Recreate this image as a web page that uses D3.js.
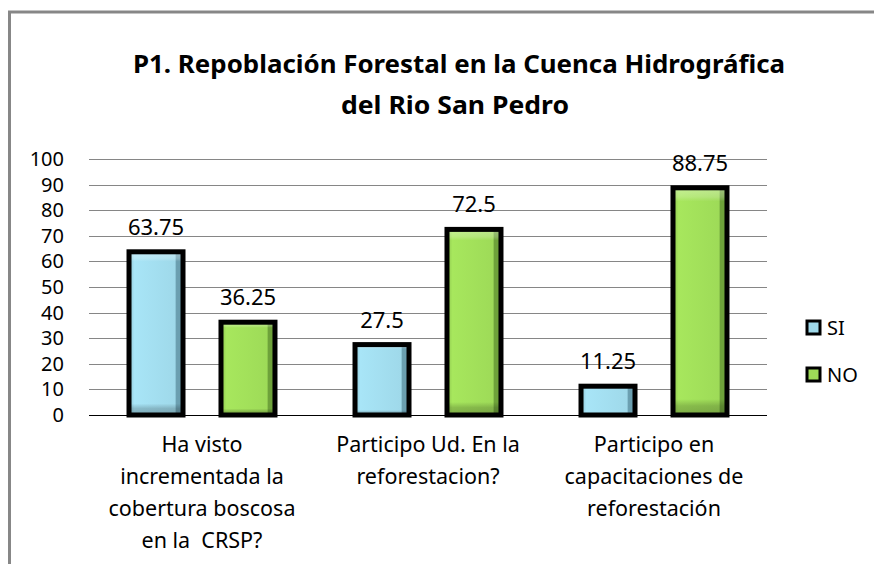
<!DOCTYPE html>
<html>
<head>
<meta charset="utf-8">
<script src="https://cdn.jsdelivr.net/npm/d3@7"></script>
<style>
  body { margin: 0; background: #fff; }
  text { font-family: "Noto Sans", "Open Sans", sans-serif; fill: #000; }
</style>
</head>
<body>
<div id="chart"></div>
<script>
// Datos
var categorias = [
  ["Ha visto", "incrementada la", "cobertura boscosa", "en la  CRSP?"],
  ["Participo Ud. En la", "reforestacion?"],
  ["Participo en", "capacitaciones de", "reforestación"]
];
var series = ["SI", "NO"];
var valoresSI = [63.75, 27.5, 11.25];
var valoresNO = [36.25, 72.5, 88.75];
var ticksY = [0, 10, 20, 30, 40, 50, 60, 70, 80, 90, 100];
var titulo = ["P1. Repoblación Forestal en la Cuenca Hidrográfica", "del Rio San Pedro"];

// Tamanho do svg
var w = 874, h = 564;
var margin = {top: 159, right: 107, bottom: 149, left: 89};
var width = w - margin.left - margin.right;
var height = h - margin.top - margin.bottom;

var colores = {SI: "#9fd9ea", NO: "#9edb58"};
var bordes = {SI: "#6b9fb0", NO: "#6ea23a"};

var svg = d3.select("#chart").append("svg")
  .attr("width", w).attr("height", h);

// Gradientes (efeito bisel)
var defs = svg.append("defs");
series.forEach(function(s) {
  var gh = defs.append("linearGradient").attr("id", "gh" + s)
    .attr("x1", 0).attr("x2", 1).attr("y1", 0).attr("y2", 0);
  gh.append("stop").attr("offset", 0).attr("stop-color", d3.color(colores[s]).darker(0.3));
  gh.append("stop").attr("offset", 0.1).attr("stop-color", d3.color(colores[s]).brighter(0.15));
  gh.append("stop").attr("offset", 0.85).attr("stop-color", colores[s]);
  gh.append("stop").attr("offset", 0.88).attr("stop-color", bordes[s]);
  gh.append("stop").attr("offset", 1).attr("stop-color", bordes[s]);
});
var gv = defs.append("linearGradient").attr("id", "gv")
  .attr("x1", 0).attr("x2", 0).attr("y1", 0).attr("y2", 1);
gv.append("stop").attr("offset", 0).attr("stop-color", "#fff").attr("stop-opacity", 0.35);
gv.append("stop").attr("offset", 0.04).attr("stop-color", "#fff").attr("stop-opacity", 0.2);
gv.append("stop").attr("offset", 0.06).attr("stop-color", "#fff").attr("stop-opacity", 0);
gv.append("stop").attr("offset", 0.93).attr("stop-color", "#000").attr("stop-opacity", 0);
gv.append("stop").attr("offset", 0.96).attr("stop-color", "#000").attr("stop-opacity", 0.18);
gv.append("stop").attr("offset", 1).attr("stop-color", "#000").attr("stop-opacity", 0.25);

// Moldura
svg.append("path")
  .attr("d", "M9.5," + h + " V12 H" + w)
  .attr("fill", "none").attr("stroke", "#878787").attr("stroke-width", 3);

// Titulo
svg.append("text")
  .attr("x", 459).attr("y", 73)
  .attr("text-anchor", "middle")
  .attr("font-size", "25px").attr("font-weight", "bold")
  .attr("textLength", 652).attr("lengthAdjust", "spacingAndGlyphs")
  .text(titulo[0]);
svg.append("text")
  .attr("x", 455).attr("y", 114)
  .attr("text-anchor", "middle")
  .attr("font-size", "25px").attr("font-weight", "bold")
  .attr("textLength", 228).attr("lengthAdjust", "spacingAndGlyphs")
  .text(titulo[1]);

var g = svg.append("g")
  .attr("transform", "translate(" + margin.left + "," + margin.top + ")");

// Escalas
var idx = d3.range(categorias.length);
var x0 = d3.scaleBand().domain(idx).range([0, width]);
var x1 = d3.scaleBand().domain(series).range([0, x0.bandwidth()])
  .paddingInner(0.413).paddingOuter(0.435);
var y = d3.scaleLinear().domain([0, 100]).range([height, 0]);

// Grade
g.append("g").selectAll("line")
  .data(ticksY.slice(1)).enter().append("line")
  .attr("x1", 0).attr("x2", width)
  .attr("y1", function(d) { return Math.round(y(d)) + 0.5; })
  .attr("y2", function(d) { return Math.round(y(d)) + 0.5; })
  .attr("stroke", "#868686").attr("stroke-width", 1);

// Eixo y
var yAxis = d3.axisLeft(y).tickValues(ticksY).tickSize(0).tickPadding(25);
var ya = g.append("g").call(yAxis);
ya.select(".domain").remove();
ya.selectAll("text").attr("font-size", "20px")
  .attr("font-family", "'Noto Sans', sans-serif").attr("fill", "#000");

// Dados
var dados = [];
idx.forEach(function(i) {
  dados.push({cat: i, serie: "SI", valor: valoresSI[i]});
  dados.push({cat: i, serie: "NO", valor: valoresNO[i]});
});

var barras = g.append("g").selectAll("g")
  .data(dados).enter().append("g")
  .attr("transform", function(d) { return "translate(" + (x0(d.cat) + x1(d.serie)) + ",0)"; });

barras.append("rect")
  .attr("x", 0).attr("width", x1.bandwidth())
  .attr("y", function(d) { return y(d.valor); })
  .attr("height", function(d) { return height - y(d.valor); })
  .attr("fill", function(d) { return "url(#gh" + d.serie + ")"; });
barras.append("rect")
  .attr("x", 0).attr("width", x1.bandwidth())
  .attr("y", function(d) { return y(d.valor); })
  .attr("height", function(d) { return height - y(d.valor); })
  .attr("fill", "url(#gv)")
  .attr("stroke", "#000").attr("stroke-width", 5);

barras.append("text")
  .attr("x", x1.bandwidth() / 2)
  .attr("y", function(d) { return y(d.valor) - 17; })
  .attr("text-anchor", "middle")
  .attr("font-size", "22px")
  .text(function(d) { return d.valor; });

// Eixo x
g.append("line")
  .attr("x1", 0).attr("x2", width)
  .attr("y1", height + 0.5).attr("y2", height + 0.5)
  .attr("stroke", "#000").attr("stroke-width", 1);

var xa = g.append("g").selectAll("text")
  .data(idx).enter().append("text")
  .attr("x", function(d) { return x0(d) + x0.bandwidth() / 2; })
  .attr("y", height + 37)
  .attr("text-anchor", "middle")
  .attr("font-size", "21.5px")
  .style("white-space", "pre");
xa.selectAll("tspan")
  .data(function(d) { return categorias[d]; }).enter().append("tspan")
  .attr("x", function() { var p = d3.select(this.parentNode).datum(); return x0(p) + x0.bandwidth() / 2; })
  .attr("dy", function(d, i) { return i === 0 ? 0 : 32; })
  .text(function(d) { return d; });

// Legenda
var leg = svg.append("g").selectAll("g")
  .data(series).enter().append("g")
  .attr("transform", function(d, i) { return "translate(807," + (321 + i * 47) + ")"; });
leg.append("rect")
  .attr("width", 13).attr("height", 13)
  .attr("fill", function(d) { return colores[d]; })
  .attr("stroke", "#000").attr("stroke-width", 3);
leg.append("text")
  .attr("x", 20).attr("y", 14)
  .attr("font-size", "20px")
  .text(function(d) { return d; });
</script>
</body>
</html>
